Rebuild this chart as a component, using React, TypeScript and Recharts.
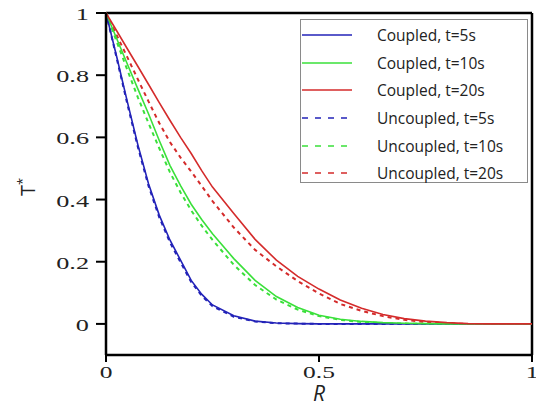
import React from "react";
import { LineChart, Line, XAxis, YAxis, ReferenceLine, Legend } from "recharts";

// radial position R
const rValues = [0, 0.025, 0.05, 0.075, 0.1, 0.125, 0.15, 0.175, 0.2, 0.225, 0.25, 0.3, 0.35, 0.4, 0.45, 0.5, 0.55, 0.6, 0.65, 0.7, 0.75, 0.8, 0.85, 0.9, 0.95, 1];

// T* values
const coupled5 = [1, 0.86, 0.715, 0.575, 0.45, 0.35, 0.27, 0.205, 0.14, 0.095, 0.061, 0.026, 0.009, 0.003, 0.001, 0, 0, 0, 0, 0, 0, 0, 0, 0, 0, 0];
const coupled10 = [1, 0.918, 0.836, 0.755, 0.675, 0.59, 0.51, 0.445, 0.385, 0.335, 0.29, 0.21, 0.14, 0.088, 0.053, 0.028, 0.015, 0.008, 0.004, 0.002, 0.001, 0, 0, 0, 0, 0];
const coupled20 = [1, 0.943, 0.885, 0.828, 0.77, 0.712, 0.655, 0.6, 0.548, 0.492, 0.44, 0.355, 0.272, 0.205, 0.153, 0.112, 0.077, 0.05, 0.03, 0.017, 0.009, 0.004, 0.001, 0, 0, 0];
const uncoupled5 = [1, 0.855, 0.708, 0.568, 0.443, 0.343, 0.263, 0.198, 0.135, 0.09, 0.057, 0.023, 0.008, 0.002, 0.001, 0, 0, 0, 0, 0, 0, 0, 0, 0, 0, 0];
const uncoupled10 = [1, 0.908, 0.817, 0.728, 0.645, 0.565, 0.488, 0.423, 0.365, 0.315, 0.27, 0.19, 0.125, 0.078, 0.046, 0.025, 0.013, 0.006, 0.003, 0.001, 0, 0, 0, 0, 0, 0];
const uncoupled20 = [1, 0.929, 0.858, 0.786, 0.715, 0.646, 0.585, 0.535, 0.49, 0.443, 0.395, 0.31, 0.238, 0.185, 0.138, 0.098, 0.064, 0.042, 0.025, 0.013, 0.006, 0.002, 0, 0, 0, 0];

const xTicks = [0, 0.5, 1];
const yTicks = [0, 0.2, 0.4, 0.6, 0.8, 1];

const BLUE = "#2323b8";
const GREEN = "#3ae03a";
const RED = "#d42b2b";

const series = [
  { key: "c5", name: "Coupled, t=5s", color: BLUE, dashed: false },
  { key: "c10", name: "Coupled, t=10s", color: GREEN, dashed: false },
  { key: "c20", name: "Coupled, t=20s", color: RED, dashed: false },
  { key: "u5", name: "Uncoupled, t=5s", color: BLUE, dashed: true },
  { key: "u10", name: "Uncoupled, t=10s", color: GREEN, dashed: true },
  { key: "u20", name: "Uncoupled, t=20s", color: RED, dashed: true },
];

const data = rValues.map((r, i) => ({
  r,
  c5: coupled5[i],
  c10: coupled10[i],
  c20: coupled20[i],
  u5: uncoupled5[i],
  u10: uncoupled10[i],
  u20: uncoupled20[i],
}));

const serif = "Liberation Serif";

// the source figure is stretched sideways, so the serif labels get a horizontal scale
const renderYTick = (props: any) => {
  const { x, y, payload } = props;
  return (
    <g transform={`translate(${x},${y})`}>
      <text
        transform="scale(1.5,1)"
        textAnchor="end"
        dy="0.4em"
        style={{ fontFamily: serif, fontSize: 17.5, fill: "#222" }}
      >
        {String(payload.value)}
      </text>
    </g>
  );
};

const renderXTick = (props: any) => {
  const { x, y, payload } = props;
  return (
    <g transform={`translate(${x},${y})`}>
      <text
        transform="scale(1.5,1)"
        textAnchor="middle"
        dy="0.71em"
        style={{ fontFamily: serif, fontSize: 17, fill: "#222" }}
      >
        {String(payload.value)}
      </text>
    </g>
  );
};

const LegendBox = () => (
  <div
    style={{
      width: 228,
      height: 164,
      boxSizing: "border-box",
      border: "1px solid #8a8a8a",
      background: "#fff",
      paddingTop: 1,
      fontFamily: "'Open Sans', sans-serif",
      fontSize: 15.5,
      color: "#222",
    }}
  >
    {series.map((s) => (
      <div key={s.key} style={{ display: "flex", alignItems: "center", height: 27.7 }}>
        <svg width={50} height={6} style={{ marginLeft: 1 }}>
          <line
            x1={0}
            y1={3}
            x2={50}
            y2={3}
            stroke={s.color}
            strokeWidth={1.6}
            strokeDasharray={s.dashed ? "6 7" : undefined}
          />
        </svg>
        <span style={{ marginLeft: 25, whiteSpace: "nowrap" }}>{s.name}</span>
      </div>
    ))}
  </div>
);

const App = () => {
  const dashedFirst = [...series.filter((s) => s.dashed), ...series.filter((s) => !s.dashed)];
  return (
    <div style={{ position: "absolute", left: 0, top: 0, background: "#fff" }}>
      <LineChart width={536} height={406} data={data} margin={{ top: 13, right: 4, bottom: 0, left: 0 }}>
        <XAxis
          dataKey="r"
          type="number"
          domain={[0, 1]}
          ticks={xTicks}
          height={51}
          tickSize={7}
          tickMargin={4}
          tick={renderXTick}
          axisLine={{ stroke: "#000", strokeWidth: 2.5 }}
          tickLine={{ stroke: "#000", strokeWidth: 2 }}
          label={{
            content: (p: any) => {
              const vb = p.viewBox || {};
              return (
                <text
                  x={vb.x + vb.width / 2}
                  y={vb.y + 46}
                  textAnchor="middle"
                  style={{ fontFamily: "Open Sans", fontStyle: "italic", fontSize: 21, fill: "#222" }}
                >
                  R
                </text>
              );
            },
          }}
        />
        <YAxis
          type="number"
          domain={[-0.1, 1]}
          ticks={yTicks}
          width={106}
          tickSize={10}
          tickMargin={7}
          tick={renderYTick}
          axisLine={{ stroke: "#000", strokeWidth: 2.5 }}
          tickLine={{ stroke: "#000", strokeWidth: 2 }}
          label={{
            content: (p: any) => {
              const vb = p.viewBox || {};
              const cx = vb.x + 28;
              const cy = vb.y + vb.height / 2 + 3;
              return (
                <text
                  transform={`translate(${cx},${cy}) rotate(-90)`}
                  textAnchor="middle"
                  dy="0.35em"
                  style={{ fontFamily: "Open Sans", fontSize: 20, fill: "#222" }}
                >
                  T<tspan dy="-8" fontSize={13}>*</tspan>
                </text>
              );
            },
          }}
        />
        <ReferenceLine y={1} stroke="#000" strokeWidth={2.5} />
        <ReferenceLine x={1} stroke="#000" strokeWidth={2.5} />
        {dashedFirst.map((s) => (
          <Line
            key={s.key}
            type="linear"
            dataKey={s.key}
            name={s.name}
            stroke={s.color}
            strokeWidth={s.dashed ? 2 : 1.6}
            strokeDasharray={s.dashed ? "4 4" : undefined}
            dot={false}
            activeDot={false}
            isAnimationActive={false}
          />
        ))}
        <Legend
          layout="vertical"
          align="center"
          verticalAlign="middle"
          content={<LegendBox />}
          wrapperStyle={{ position: "absolute", left: 300, top: 19, width: 228, height: 164 }}
        />
      </LineChart>
    </div>
  );
};

export default App;
